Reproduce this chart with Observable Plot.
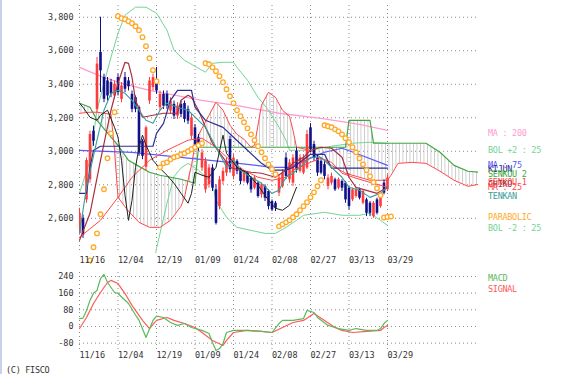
<!DOCTYPE html>
<html><head><meta charset="utf-8">
<script src="https://cdn.jsdelivr.net/npm/d3@7"></script>
<script src="https://cdn.jsdelivr.net/npm/@observablehq/plot@0.6"></script>
<style>
body{margin:0;background:#fff;}
#wrap{position:relative;width:561px;height:384px;overflow:hidden;font-family:"DejaVu Sans Mono",monospace;background:#fff;}
#wrap svg{display:block;}
.lg{position:absolute;left:488px;font-size:8.5px;letter-spacing:-0.3px;white-space:pre;line-height:9px;}
</style></head><body><div id="wrap"></div><script>
// ---------- axis ticks ----------
const xTickIdx=[0,11,22,33,44,55,66,77,88];
const xTickLabels=["11/16","12/04","12/19","01/09","01/24","02/08","02/27","03/13","03/29"];
const priceTicks=[2600,2800,3000,3200,3400,3600,3800];
const macdTicks=[-80,0,80,160,240];
// ---------- candles (index 0 = 11/16 ... 88 = 03/29) ----------
const opens=[2510,2600,2710,2830,3120,3250,3590,3440,3420,3410,3330,3440,3310,3440,3420,3340,3320,3260,3060,2905,3300,3380,3420,3260,3340,3340,3240,3280,3210,3280,3285,3250,3090,3140,3080,2900,2770,2800,2900,2770,2670,2820,2870,3070,2850,2940,2890,2820,2870,2840,2780,2810,2740,2790,2760,2700,2690,2750,2790,2960,2830,2810,3000,2880,2870,2900,3140,3040,2960,2940,2920,2790,2810,2830,2780,2820,2810,2780,2710,2730,2770,2690,2710,2690,2610,2710,2670,2810,2770];
const highs=[2660,2620,2960,3120,3150,3560,3800,3460,3440,3430,3420,3460,3410,3470,3440,3360,3330,3270,3070,3150,3440,3460,3500,3360,3360,3360,3320,3300,3290,3300,3300,3270,3220,3160,3100,3010,2960,2920,2920,2800,2850,2900,2960,3090,2980,2950,2900,2880,2880,2850,2850,2820,2810,2800,2770,2710,2700,2860,2890,2990,2950,2980,3020,2980,2980,3125,3165,3060,2980,2950,2940,2860,2870,2840,2840,2830,2820,2790,2780,2780,2780,2770,2720,2700,2700,2720,2730,2830,2860];
const lows=[2500,2480,2690,2810,3030,3230,3350,3290,3300,3320,3310,3330,3290,3350,3360,3230,3230,2970,2950,2880,3280,3360,3340,3240,3250,3250,3220,3190,3190,3200,3170,3160,3070,3010,3000,2880,2750,2780,2760,2560,2650,2800,2850,2870,2830,2860,2800,2810,2800,2750,2770,2720,2720,2700,2650,2640,2640,2730,2780,2830,2810,2790,2870,2870,2860,2890,2990,2940,2850,2860,2830,2770,2800,2760,2770,2760,2690,2650,2700,2720,2710,2680,2610,2610,2600,2620,2660,2740,2760];
const closes=[2630,2500,2945,3100,3060,3520,3480,3310,3330,3340,3400,3350,3390,3370,3385,3250,3250,2990,2970,3140,3420,3440,3360,3340,3270,3270,3300,3210,3270,3220,3190,3180,3200,3030,3020,2990,2940,2900,2780,2570,2830,2880,2940,2890,2960,2880,2820,2870,2810,2770,2840,2730,2800,2720,2670,2650,2660,2840,2870,2850,2930,2960,2890,2960,2960,3100,3010,2960,2870,2870,2850,2840,2850,2770,2830,2780,2710,2670,2770,2770,2720,2760,2630,2630,2690,2630,2720,2750,2840];
// ---------- indicator lines: [index, value] ----------
const ma200=[[0,3501],[6,3448],[12,3406],[20,3364],[29,3328],[35,3304],[46,3269],[57,3227],[69,3197],[80,3161],[88,3125]];
const ma75=[[0,3006],[15,2994],[29,2964],[43,2934],[55,2904],[60,2904],[70,2994],[75,3018],[79,2988],[88,2916]];
const ma25=[[0,2487],[6,2588],[11,2725],[15,2845],[20,2946],[25,3006],[31,3066],[35,3078],[39,3024],[43,2946],[47,2887],[51,2845],[55,2827],[59,2845],[61,2887],[66,2934],[69,2958],[72,2934],[75,2869],[79,2839],[83,2815],[86,2797],[88,2785]];
const shortLine=[[0,2469],[3,2630],[6,2946],[9,3245],[11,3406],[13,3531],[14,3525],[15,3442],[16,3304],[18,3203],[21,3215],[24,3227],[28,3227],[29,3304],[31,3334],[32,3322],[34,3245],[36,3143],[38,3048],[41,2964],[43,2904],[46,2887],[49,2875],[52,2869],[56,2845],[59,2887],[61,2928],[64,2964],[66,3006],[69,3024],[72,3018],[75,2964],[77,2845],[79,2785],[82,2767],[85,2749],[88,2785]];
const tenkan=[[0,2510],[2,2785],[5,3066],[7,3245],[9,3346],[11,3364],[13,3346],[15,3304],[17,3245],[19,3185],[21,3167],[23,3245],[25,3287],[28,3263],[31,3245],[34,3185],[36,3143],[39,3024],[41,2946],[42,2904],[44,2946],[46,2887],[49,2845],[52,2809],[55,2749],[57,2767],[59,2845],[61,2869],[63,2904],[66,2964],[69,2964],[72,2904],[75,2845],[77,2785],[80,2767],[83,2725],[86,2749],[88,2785]];
const kijun=[[0,2749],[2,2749],[3,2904],[4,3006],[6,3030],[21,3030],[22,3107],[24,3167],[26,3304],[28,3364],[32,3364],[33,3263],[36,3185],[41,3143],[44,3084],[48,3006],[52,2928],[55,2887],[59,2887],[61,2904],[66,2982],[70,2982],[72,2899],[88,2899]];
const chiko=[[0,3287],[1,3263],[3,3203],[5,3185],[6,3215],[8,3245],[10,3143],[11,3084],[12,2946],[13,2737],[14,2588],[15,2707],[16,2904],[17,3024],[18,3096],[19,3036],[21,2946],[23,2898],[25,2857],[27,2809],[29,2749],[31,2690],[32,2749],[33,2875],[35,2857],[37,2845],[39,2904],[41,3096],[42,2988],[45,2904],[48,2869],[51,2797],[54,2707],[56,2660],[58,2648],[60,2678],[62,2785]];
const bolUpper=[[0,2750],[3,2946],[5,3245],[7,3406],[9,3561],[11,3704],[13,3812],[16,3860],[19,3860],[22,3824],[25,3722],[27,3603],[30,3543],[33,3507],[36,3472],[38,3525],[41,3531],[44,3531],[45,3501],[48,3424],[51,3322],[54,3245],[57,3143],[59,3066],[60,3006],[66,3006],[72,3030],[78,3048],[83,3054],[88,3048]];
const bolLower=[[20,2200],[22,2420],[25,2690],[27,2850],[29,2900],[31,2928],[34,2887],[38,2809],[39,2707],[42,2606],[45,2546],[49,2528],[53,2510],[56,2510],[59,2546],[62,2588],[64,2618],[70,2636],[75,2618],[80,2618],[83,2630],[86,2588],[88,2558]];
// ichimoku cloud (shifted forward)
const cloudIdx=[0,3,5,9,10,11,14,17,20,23,26,29,30,31,32,33,34,35,37,39,41,43,45,47,49,50,52,54,56,58,60,61,62,66,72,76,77,83,84,88,89,91,95,99,103,107,111,114];
const senkou1=[3227,3233,3233,3221,3006,2725,2642,2576,2546,2546,2588,2672,2725,2827,2916,3036,3096,3137,3215,3293,3245,3155,3101,3072,3024,3036,3275,3352,3322,3245,3209,3125,3024,3006,2916,2869,2863,2827,2827,2827,2857,2928,2934,2928,2881,2827,2791,2803];
const senkou2=[3287,3263,3185,3084,3060,3036,2946,2910,2875,2857,2845,2833,2827,2821,2815,2809,3024,3024,3024,3024,3024,3024,3024,3024,3024,3024,3024,3024,3024,3024,3024,3024,3024,3024,3024,3024,3185,3185,3048,3048,3048,3048,3048,3048,2994,2916,2881,2875];
// parabolic SAR
const sar=[[3,2349],[4,2427],[5,2510],[6,2624],[7,2773],[8,2958],[9,3107],[10,3233],
[11,3806],[12,3794],[13,3788],[14,3776],[15,3764],[16,3746],[17,3722],[18,3681],[19,3627],[20,3555],[21,3484],[22,3418],
[23,2904],[24,2928],[25,2934],[26,2952],[27,2964],[28,2970],[29,2982],[30,2988],[31,3000],[32,3012],[33,3024],[34,3036],[35,3048],
[36,3525],[37,3519],[38,3501],[39,3478],[40,3448],[41,3412],[42,3370],[43,3328],[44,3287],[45,3245],[46,3209],[47,3173],[48,3137],[49,3101],[50,3066],[51,3030],[52,2994],[53,2958],[54,2922],[55,2893],[56,2863],
[57,2552],[58,2564],[59,2576],[60,2588],[61,2606],[62,2624],[63,2648],[64,2672],[65,2696],[66,2725],[67,2755],[68,2791],[69,2827],
[70,3155],[71,3149],[72,3143],[73,3131],[74,3119],[75,3101],[76,3078],[77,3054],[78,3024],[79,2994],[80,2958],[81,2922],[82,2887],[83,2851],[84,2815],[85,2779],[86,2737],
[87,2605],[88,2608],[89,2611]];
// MACD
const macd=[[0,38],[1,40],[2,77],[3,125],[4,160],[5,173],[6,230],[7,250],[8,211],[10,163],[11,158],[14,110],[16,55],[17,30],[19,-53],[21,29],[22,50],[24,43],[26,19],[28,5],[30,14],[32,-5],[35,-19],[37,-34],[38,-77],[39,-115],[40,-106],[41,-82],[42,-29],[44,-19],[48,-19],[52,-24],[55,-29],[57,14],[58,29],[61,29],[64,38],[65,77],[67,67],[68,43],[71,5],[74,-10],[77,-19],[79,-10],[82,-19],[85,-19],[86,-10],[87,14],[88,29]];
const signal=[[0,-10],[2,43],[4,110],[6,163],[8,211],[9,221],[11,206],[13,158],[15,101],[18,29],[20,-10],[22,29],[25,43],[27,29],[30,14],[33,-5],[35,-29],[38,-67],[41,-91],[42,-67],[44,-29],[48,-19],[52,-24],[55,-29],[58,-5],[61,19],[64,29],[67,62],[70,29],[73,-5],[75,-19],[78,-29],[82,-24],[86,-19],[87,-5],[88,5]];

// ---------- styles ----------
const C={up:"#ff3b3b",down:"#10108a",ma200:"#ff9ccf",ma75:"#5a5aff",ma25:"#ff4848",short:"#a83040",bol:"#74d496",s1:"#ff4848",s2:"#40a840",tenkan:"#3a9c9c",kijun:"#2e2e8c",chiko:"#202020",sar:"#ffa928",macd:"#5cb85c",signal:"#ff5a5a",grid:"#8a8a8a",text:"#333"};
const gridOpt={stroke:C.grid,strokeOpacity:1,strokeWidth:1,strokeDasharray:"1,3"};
const idx=closes.map((_,i)=>i);
const upIdx=idx.filter(i=>closes[i]>=opens[i]);
const dnIdx=idx.filter(i=>closes[i]<opens[i]);
const P=(arr,color,w=1)=>Plot.line(arr,{x:d=>d[0],y:d=>d[1],stroke:color,strokeWidth:w,clip:true});

const main=Plot.plot({
  width:561,height:270,marginLeft:79,marginRight:83,marginTop:5,marginBottom:17,
  x:{domain:[0,114],axis:null},
  y:{domain:[2390,3870],axis:null},
  style:{fontFamily:"DejaVu Sans Mono",fontSize:"8.5px",background:"transparent",overflow:"visible"},
  marks:[
    Plot.ruleY(priceTicks,{y:d=>d,...gridOpt}),
    Plot.ruleX(xTickIdx,{x:d=>d,...gridOpt}),
    Plot.areaY(cloudIdx,{x:d=>d,y1:(d,k)=>senkou1[k],y2:(d,k)=>senkou2[k],fill:"url(#hatch)",clip:true}),
    P(ma200,C.ma200,1.3),
    P(bolUpper,C.bol),P(bolLower,C.bol),
    P(cloudIdx.map((d,k)=>[d,senkou2[k]]),C.s2,1.2),
    P(cloudIdx.map((d,k)=>[d,senkou1[k]]),C.s1),
    P(ma75,C.ma75,1.2),
    Plot.ruleX(idx,{x:i=>i,y1:i=>lows[i],y2:i=>highs[i],stroke:C.up,strokeWidth:1,filter:i=>closes[i]>=opens[i],clip:true}),
    Plot.ruleX(idx,{x:i=>i,y1:i=>lows[i],y2:i=>highs[i],stroke:C.down,strokeWidth:1,filter:i=>closes[i]<opens[i],clip:true}),
    Plot.ruleX(upIdx,{x:i=>i,y1:i=>opens[i],y2:i=>closes[i],stroke:C.up,strokeWidth:2.6,clip:true}),
    Plot.ruleX(dnIdx,{x:i=>i,y1:i=>opens[i],y2:i=>closes[i],stroke:C.down,strokeWidth:2.6,clip:true}),
    P(ma25,C.ma25),
    P(shortLine,C.short,1.2),
    P(kijun,C.kijun,1.2),
    P(tenkan,C.tenkan,1.1),
    P(chiko,C.chiko,1),
    Plot.dot(sar,{x:d=>d[0],y:d=>d[1],r:2.3,stroke:C.sar,strokeWidth:1.3,fill:"white"}),
    Plot.text(priceTicks,{y:d=>d,frameAnchor:"left",dx:-6,textAnchor:"end",text:d=>d3.format(",")(d),fill:C.text}),
    Plot.text(xTickIdx,{x:d=>d,frameAnchor:"bottom",dy:9,textAnchor:"start",text:d=>xTickLabels[xTickIdx.indexOf(d)],fill:C.text,ariaLabel:"xlabels"})
  ]
});
d3.select(main).insert("defs",":first-child").html('<pattern id="hatch" patternUnits="userSpaceOnUse" x="0" y="0" width="3.5" height="8"><rect x="0" y="0" width="0.8" height="8" fill="#c4c4c4"/></pattern>');

const macdPlot=Plot.plot({
  width:561,height:100,marginLeft:79,marginRight:83,marginTop:4,marginBottom:16,
  x:{domain:[0,114],axis:null},
  y:{domain:[-125,259],axis:null},
  style:{fontFamily:"DejaVu Sans Mono",fontSize:"8.5px",background:"transparent",overflow:"visible"},
  marks:[
    Plot.ruleY(macdTicks,{y:d=>d,...gridOpt}),
    Plot.ruleX(xTickIdx,{x:d=>d,...gridOpt}),
    P(signal,C.signal,1.2),
    P(macd,C.macd,1.2),
    Plot.text(macdTicks,{y:d=>d,frameAnchor:"left",dx:-6,textAnchor:"end",text:d=>String(d),fill:C.text}),
    Plot.text(xTickIdx,{x:d=>d,frameAnchor:"bottom",dy:5,textAnchor:"start",text:d=>xTickLabels[xTickIdx.indexOf(d)],fill:C.text,ariaLabel:"xlabels"})
  ]
});

const wrap=document.getElementById("wrap");
const strip=document.createElement("div");
strip.style.cssText="position:absolute;left:0;top:0;width:2px;height:374px;background:#c9d1ee;";
wrap.appendChild(strip);
const m1=document.createElement("div");m1.style.cssText="position:absolute;left:0;top:0;";m1.appendChild(main);wrap.appendChild(m1);
const m2=document.createElement("div");m2.style.cssText="position:absolute;left:0;top:268px;";m2.appendChild(macdPlot);wrap.appendChild(m2);
d3.select(wrap).selectAll('g[aria-label="xlabels"] text').style("letter-spacing","-1.1px");

const legend=[
  ["MA : 200",C.ma200,133],["BOL +2 : 25",C.bol,150],
  ["MA : 75",C.ma75,165],["KIJUN",C.kijun,169],["SENKOU 2",C.s2,174],
  ["SENKOU 1",C.s1,182],["CHIKO",C.short,184],["MA : 25",C.ma25,187],["TENKAN",C.tenkan,196],
  ["PARABOLIC",C.sar,217],["BOL -2 : 25",C.bol,228],
  ["MACD",C.macd,278],["SIGNAL",C.signal,289]
];
legend.forEach(([t,c,y])=>{const s=document.createElement("div");s.className="lg";s.textContent=t;s.style.color=c;s.style.top=(y-4.5)+"px";wrap.appendChild(s);});
const f=document.createElement("div");f.className="lg";f.style.left="6px";f.style.top="365.5px";f.style.color="#333";f.textContent="(C) FISCO";wrap.appendChild(f);
</script></body></html>
